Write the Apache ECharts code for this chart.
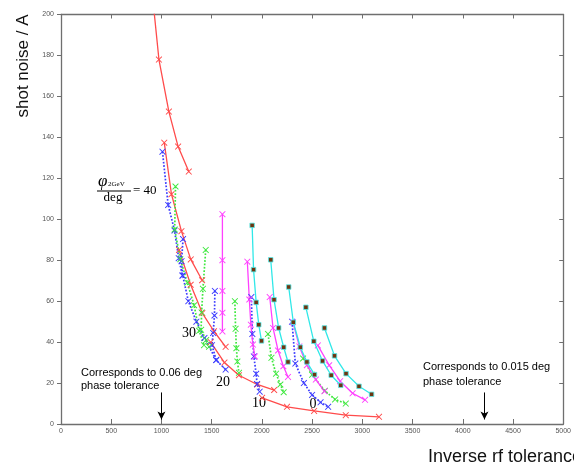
<!DOCTYPE html>
<html><head><meta charset="utf-8">
<script src="https://cdn.jsdelivr.net/npm/echarts@6/dist/echarts.min.js"></script>
<style>html,body{margin:0;padding:0;background:#fff}#c{width:574px;height:464px}</style>
</head><body><div id="c"></div>
<script>
// ---- data (x: inverse rf tolerance, y: shot noise / A) ----
const xTicks = [0,500,1000,1500,2000,2500,3000,3500,4000,4500,5000];
const yTicks = [0,20,40,60,80,100,120,140,160,180,200];

const red1 = [[905,212],[975,178],[1074,152.6],[1166,135.5],[1272,123.3]];
const red2 = [[1028,137.4],[1100,112.2],[1199,94.2],[1292,80.4],[1405,70.2]];
const red3 = [[1175,85],[1291,68],[1407,54.2],[1523,45.3],[1639,37.7]];
const red4 = [[1490,40],[1627,30],[1771,23.8],[1953,19.3],[2122,16.6]];
const red5 = [[2002,12.8],[2250,8.4],[2520,6.4],[2835,4.3],[3166,3.5]];

const blue1 = [[1010,133],[1067,107],[1130,94.5],[1172,81],[1209,72.5]];
const blue2 = [[1215,90.3],[1200,79.5],[1212,72.5],[1268,60],[1348,50],[1428,42],[1545,31.2],[1639,26.6]];
const blue3 = [[1532,65],[1528,53],[1515,44.5],[1503,38.5],[1545,31.2]];
const blue4 = [[1895,62],[1905,44],[1920,33],[1943,24.5],[1952,19.5],[1978,15.8]];
const blue5 = [[2300,50],[2333,29.5],[2418,20],[2500,14.2],[2584,10.6],[2660,8.4]];

const green1 = [[1140,116],[1132,95],[1188,80.5],[1258,69],[1325,58],[1375,45.5],[1424,38.5]];
const green2 = [[1441,85],[1413,66],[1400,54.5],[1395,46],[1445,41],[1474,37.7]];
const green3 = [[1731,60],[1738,46.5],[1746,37],[1756,30.5],[1772,25]];
const green4 = [[2061,44],[2095,32.3],[2141,24.6],[2184,19.3],[2217,15.5]];
const green5 = [[2410,32],[2500,24],[2627,16.2],[2729,12],[2835,10]];

const magenta1 = [[1607,102.5],[1607,80],[1607,65],[1607,54.3],[1607,45.2]];
const magenta2 = [[1855,79.3],[1875,60.8],[1890,48.5],[1910,38.8],[1930,33]];
const magenta3 = [[2078,62],[2111,46.9],[2161,35.9],[2214,28.2],[2260,23]];
const magenta4 = [[2309,49.7],[2373,37.9],[2448,28.7],[2537,21.7],[2623,16]];
const magenta5 = [[2557,38.4],[2670,28.7],[2779,20.9],[2903,15],[3027,11.8]];

const cyan1 = [[1903,97],[1917,75.4],[1943,59.4],[1969,48.5],[1996,40.6]];
const cyan2 = [[2088,80.2],[2121,60.7],[2167,46.9],[2217,37.5],[2260,30.3]];
const cyan3 = [[2267,66.9],[2313,49.7],[2383,37.5],[2448,30.3],[2524,24.1]];
const cyan4 = [[2438,57],[2517,40.4],[2604,30.8],[2690,23.8],[2785,18.9]];
const cyan5 = [[2623,46.9],[2723,33.3],[2838,24.6],[2967,18.4],[3092,14.5]];

const phiLabels = [
  {text:'30', x:189, y:333},
  {text:'20', x:223, y:382},
  {text:'10', x:259, y:403},
  {text:'0',  x:313, y:404}
];
const arrowX = [1000, 4216];

// ---- build ----
const XPATH = 'path://M0,1L1,0L5,4L9,0L10,1L6,5L10,9L9,10L5,6L1,10L0,9L4,5Z';
const RED='#ff4b4b', BLUE='#3b3bff', GREEN='#3fe83f', MAG='#ff40ff', CYAN='#30e8e8';

function ser(data, color, kind){
  const dotted = kind === 'dot', cy = kind === 'cyan';
  return {
    type:'line', data:data, clip:true, silent:true, animation:false,
    symbol: cy ? 'rect' : XPATH, symbolSize: cy ? 4.5 : 6.5,
    lineStyle:{color:color, width: dotted ? 1.7 : 1.3, type: dotted ? 'dotted' : 'solid'},
    itemStyle: cy ? {color:'#6e3510', borderColor:'#55eeee', borderWidth:0.8} : {color:color},
    z: cy ? 3 : 2
  };
}

const series = [];
[red1,red2,red3,red4,red5].forEach(d=>series.push(ser(d,RED,'solid')));
[blue1,blue2,blue3,blue4,blue5].forEach(d=>series.push(ser(d,BLUE,'dot')));
[green1,green2,green3,green4,green5].forEach(d=>series.push(ser(d,GREEN,'dot')));
[magenta1,magenta2,magenta3,magenta4,magenta5].forEach(d=>series.push(ser(d,MAG,'solid')));
[cyan1,cyan2,cyan3,cyan4,cyan5].forEach(d=>series.push(ser(d,CYAN,'cyan')));

series.push({
  type:'scatter', data:[], silent:true, animation:false,
  markLine:{
    silent:true, animation:false, symbol:['none','arrow'], symbolSize:[6,8],
    label:{show:false},
    lineStyle:{color:'#000', width:1, type:'solid'},
    data: arrowX.map(x=>[{coord:[x,15.4]},{coord:[x,2.2]}])
  }
});

const AX = '#6f6f6f';
const baseX = {type:'value', min:xTicks[0], max:xTicks[xTicks.length-1], interval:500, splitLine:{show:false}};
const baseY = {type:'value', min:yTicks[0], max:yTicks[yTicks.length-1], interval:20, splitLine:{show:false}};

const graphic = [
  {type:'text', x:428, y:457, style:{text:'Inverse rf tolerance', font:'18px "Liberation Sans", Arial', fill:'#111', verticalAlign:'middle', textVerticalAlign:'middle'}},
  {type:'text', x:23, y:66, rotation:Math.PI/2, style:{text:'shot noise / A', font:'17px "Liberation Sans", Arial', fill:'#111', align:'center', textAlign:'center', verticalAlign:'middle', textVerticalAlign:'middle'}},
  {type:'text', x:98, y:182, style:{text:'φ', font:'italic 17px "Liberation Serif", serif', fill:'#000', verticalAlign:'middle', textVerticalAlign:'middle'}},
  {type:'text', x:108, y:184, style:{text:'2GeV', font:'7px "Liberation Serif", serif', fill:'#000', verticalAlign:'middle', textVerticalAlign:'middle'}},
  {type:'line', shape:{x1:97,y1:191,x2:131,y2:191}, style:{stroke:'#000', lineWidth:1}},
  {type:'text', x:113, y:198, style:{text:'deg', font:'13px "Liberation Serif", serif', fill:'#000', align:'center', textAlign:'center', verticalAlign:'middle', textVerticalAlign:'middle'}},
  {type:'text', x:133, y:191, style:{text:'= 40', font:'13px "Liberation Serif", serif', fill:'#000', verticalAlign:'middle', textVerticalAlign:'middle'}},
  {type:'text', x:81, y:373, style:{text:'Corresponds to 0.06 deg', font:'11px "Liberation Sans", Arial', fill:'#000', verticalAlign:'middle', textVerticalAlign:'middle'}},
  {type:'text', x:81, y:386, style:{text:'phase tolerance', font:'11px "Liberation Sans", Arial', fill:'#000', verticalAlign:'middle', textVerticalAlign:'middle'}},
  {type:'text', x:423, y:367, style:{text:'Corresponds to 0.015 deg', font:'11px "Liberation Sans", Arial', fill:'#000', verticalAlign:'middle', textVerticalAlign:'middle'}},
  {type:'text', x:423, y:382, style:{text:'phase tolerance', font:'11px "Liberation Sans", Arial', fill:'#000', verticalAlign:'middle', textVerticalAlign:'middle'}}
];
phiLabels.forEach(l=>graphic.push({type:'text', x:l.x, y:l.y, style:{text:l.text, font:'14px "Liberation Serif", serif', fill:'#000', align:'center', textAlign:'center', verticalAlign:'middle', textVerticalAlign:'middle'}}));

const chart = echarts.init(document.getElementById('c'), null, {renderer:'canvas'});
chart.setOption({
  animation:false,
  backgroundColor:'#fff',
  grid:{left:61, right:8, top:14.5, bottom:40, containLabel:false},
  xAxis:[
    Object.assign({}, baseX, {position:'bottom',
      axisLine:{show:true, onZero:false, lineStyle:{color:AX, width:1.3}},
      axisTick:{show:true, inside:true, length:5, lineStyle:{color:AX}},
      axisLabel:{show:true, fontSize:7, color:'#555', margin:4, fontFamily:'Arial', formatter:v=>String(v)}}),
    Object.assign({}, baseX, {position:'top',
      axisLine:{show:true, onZero:false, lineStyle:{color:AX, width:1.3}},
      axisTick:{show:true, inside:true, length:4, lineStyle:{color:AX}},
      axisLabel:{show:false}})
  ],
  yAxis:[
    Object.assign({}, baseY, {position:'left',
      axisLine:{show:true, onZero:false, lineStyle:{color:AX, width:1.3}},
      axisTick:{show:true, inside:false, length:4, lineStyle:{color:AX}},
      axisLabel:{show:true, fontSize:7, color:'#555', margin:7, fontFamily:'Arial', formatter:v=>String(v)}}),
    Object.assign({}, baseY, {position:'right',
      axisLine:{show:true, onZero:false, lineStyle:{color:AX, width:1.3}},
      axisTick:{show:true, inside:true, length:4, lineStyle:{color:AX}},
      axisLabel:{show:false}})
  ],
  series: series,
  graphic: graphic
});
</script></body></html>
